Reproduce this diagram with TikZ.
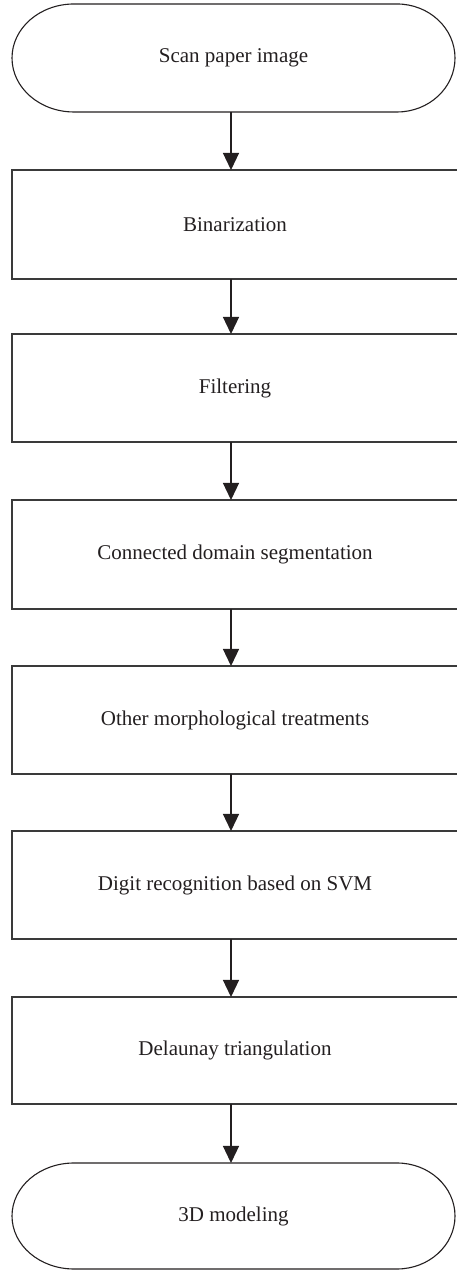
\documentclass[tikz,border=0pt]{standalone}
\usepackage{fontspec}
\setmainfont{Liberation Serif}
\usetikzlibrary{arrows.meta,calc}
\definecolor{ink}{HTML}{231F20}
\definecolor{edge}{HTML}{3A3A3A}
\tikzset{
  stepbox/.style={draw=edge, line width=1.3pt, rectangle, minimum width=446pt, inner sep=0pt, outer sep=0pt, text=ink, font=\fontsize{21}{25}\selectfont},
  termbox/.style={rectangle, minimum width=443pt, inner sep=0pt, outer sep=0pt, text=ink, font=\fontsize{21}{25}\selectfont},
  termline/.style={draw=ink, line width=1.1pt},
  arr/.style={draw=ink, line width=1.3pt, -{Triangle[width=16pt,length=17pt]}},
}
\begin{document}
\begin{tikzpicture}[x=1pt,y=1pt]
\useasboundingbox (0,0) rectangle (456,1271);
% y = 1271 - (pixel y)
\node[termbox, minimum height=108pt] (t1) at (233.5,1213) {Scan paper image};
\node[stepbox, minimum height=109pt] (b1) at (235,1046.5) {Binarization};
\node[stepbox, minimum height=108pt] (b2) at (235,883) {Filtering};
\node[stepbox, minimum height=109pt] (b3) at (235,716.5) {Connected domain segmentation};
\node[stepbox, minimum height=108pt] (b4) at (235,551) {Other morphological treatments};
\node[stepbox, minimum height=108pt] (b5) at (235,386) {Digit recognition based on SVM};
\node[stepbox, minimum height=107pt] (b6) at (235,220.5) {Delaunay triangulation};
\node[termbox, minimum height=106pt] (t2) at (233.5,55) {3D modeling};
\coordinate (axis) at (231,0);
% terminals
\draw[termline] ($(t1.north west)+(62,0)$) -- ($(t1.north east)+(-58,0)$)
  arc[start angle=90, end angle=-90, x radius=58pt, y radius=54pt]
  -- ($(t1.south west)+(62,0)$)
  arc[start angle=270, end angle=90, x radius=62pt, y radius=54pt] -- cycle;
\draw[termline] ($(t2.north west)+(62,0)$) -- ($(t2.north east)+(-58,0)$)
  arc[start angle=90, end angle=-90, x radius=58pt, y radius=53pt]
  -- ($(t2.south west)+(62,0)$)
  arc[start angle=270, end angle=90, x radius=62pt, y radius=53pt] -- cycle;
% arrows
\draw[arr] (t1.south -| axis) -- (b1.north -| axis);
\draw[arr] (b1.south -| axis) -- (b2.north -| axis);
\draw[arr] (b2.south -| axis) -- (b3.north -| axis);
\draw[arr] (b3.south -| axis) -- (b4.north -| axis);
\draw[arr] (b4.south -| axis) -- (b5.north -| axis);
\draw[arr] (b5.south -| axis) -- (b6.north -| axis);
\draw[arr] (b6.south -| axis) -- (t2.north -| axis);
\end{tikzpicture}
\end{document}
